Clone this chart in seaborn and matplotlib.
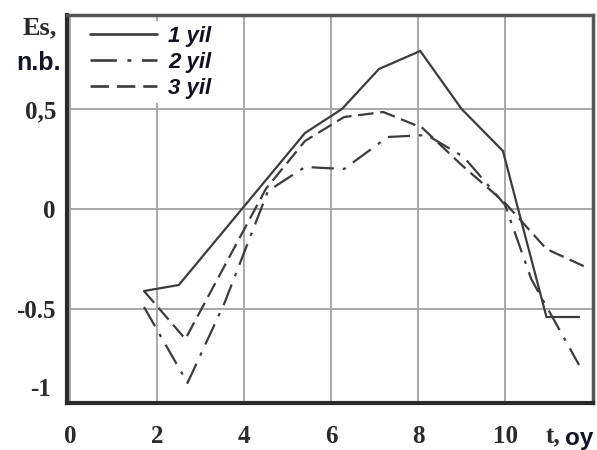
import matplotlib
matplotlib.use("Agg")
import matplotlib.pyplot as plt
from matplotlib.lines import Line2D
import seaborn as sns
import pandas as pd

# Monthly Es values (n.b.) for three years
months_1 = [1.7, 2.5, 5.4, 6.25, 7.1, 8.05, 9.0, 9.95, 10.95, 11.7]
es_1 = [-0.41, -0.38, 0.38, 0.5, 0.7, 0.79, 0.5, 0.29, -0.54, -0.54]

months_2 = [1.7, 2.7, 3.55, 4.55, 5.4, 6.3, 7.3, 8.2, 9.05, 10.0, 10.6, 11.7]
es_2 = [-0.49, -0.87, -0.47, 0.09, 0.21, 0.2, 0.36, 0.37, 0.26, 0.02, -0.35, -0.78]

months_3 = [1.7, 2.65, 4.5, 5.4, 6.3, 7.2, 8.1, 9.0, 10.0, 10.95, 11.85]
es_3 = [-0.41, -0.65, 0.1, 0.34, 0.46, 0.485, 0.405, 0.22, 0.03, -0.2, -0.29]

series_names = ["1 yil", "2 yil", "3 yil"]
x_ticks = [0, 2, 4, 6, 8, 10]
x_tick_labels = ["0", "2", "4", "6", "8", "10"]
y_ticks = [0.5, 0, -0.5]
y_tick_labels = ["0,5", "0", "-0.5"]

df = pd.concat([
    pd.DataFrame({"t": months_1, "Es": es_1, "yil": series_names[0]}),
    pd.DataFrame({"t": months_2, "Es": es_2, "yil": series_names[1]}),
    pd.DataFrame({"t": months_3, "Es": es_3, "yil": series_names[2]}),
], ignore_index=True)

sns.set_theme(style="white")
plt.rcParams["font.family"] = ["DejaVu Sans"]

W, H = 597, 450
fig = plt.figure(figsize=(W / 100, H / 100), dpi=100)
ax = fig.add_axes([67 / W, 1 - 403 / H, (593 - 67) / W, (403 - 15) / H])

line_color = "#3c3c3c"
dash_dot = (10, 4, 1.5, 4)
dashed = (7, 3)
dash_map = {"1 yil": "", "2 yil": dash_dot, "3 yil": dashed}
sns.lineplot(data=df, x="t", y="Es", hue="yil", style="yil",
             palette=[line_color] * 3, dashes=dash_map, estimator=None,
             sort=False, linewidth=1.6, ax=ax, legend=False)

ax.set_xlim(-0.07, 12.02)
ax.set_ylim(-0.97, 0.97)
ax.set_xticks(x_ticks)
ax.set_yticks(y_ticks)
ax.grid(True, color="#a8a8a8", linewidth=1.4)
ax.set_axisbelow(True)
ax.tick_params(length=0)
ax.set_xlabel("")
ax.set_ylabel("")

serif_bold = dict(family="Liberation Serif", weight="bold", size=18, color="#2a2a2a")
ax.set_xticklabels(x_tick_labels, **serif_bold)
ax.set_yticklabels(y_tick_labels, **serif_bold)
ax.tick_params(axis="x", pad=16)
ax.tick_params(axis="y", pad=8)
ax.text(-0.03, -0.9, "-1", transform=ax.get_yaxis_transform(),
        ha="right", va="center", **serif_bold)

for side in ["left", "bottom"]:
    ax.spines[side].set_linewidth(3)
    ax.spines[side].set_color("#2a2a2a")
for side in ["top", "right"]:
    ax.spines[side].set_linewidth(2.5)
    ax.spines[side].set_color("#555555")

# legend, drawn under the frame so the top spine stays visible
handles = [Line2D([], [], color=line_color, lw=1.9, linestyle="-"),
           Line2D([], [], color=line_color, lw=1.9, linestyle=(0, dash_dot)),
           Line2D([], [], color=line_color, lw=1.9, linestyle=(0, dashed))]
leg = ax.legend(handles, series_names, loc="upper left",
                prop=dict(family="Liberation Sans", weight="bold", style="italic", size=16),
                frameon=True, facecolor="white", edgecolor="none", framealpha=1,
                handlelength=3.0, handletextpad=0.5, labelspacing=0.22,
                borderpad=0.2, bbox_to_anchor=(0.015, 1.012))
leg.set_zorder(2.4)
for t in leg.get_texts():
    t.set_color("#111122")

# axis titles
fig.text(57 / W, 1 - 28 / H, "Es,", ha="right", va="center",
         **{**serif_bold, "size": 19})
fig.text(61 / W, 1 - 63 / H, "n.b.", ha="right", va="center",
         family="Liberation Sans", weight="bold", size=18, color="#141428")
fig.text(560 / W, 1 - 437 / H, "t,", ha="right", va="center", **serif_bold)
fig.text(565 / W, 1 - 438 / H, "oy", ha="left", va="center",
         family="Liberation Sans", weight="bold", size=17.5, color="#141428")

fig.savefig("out.png", dpi=100, facecolor="white")
